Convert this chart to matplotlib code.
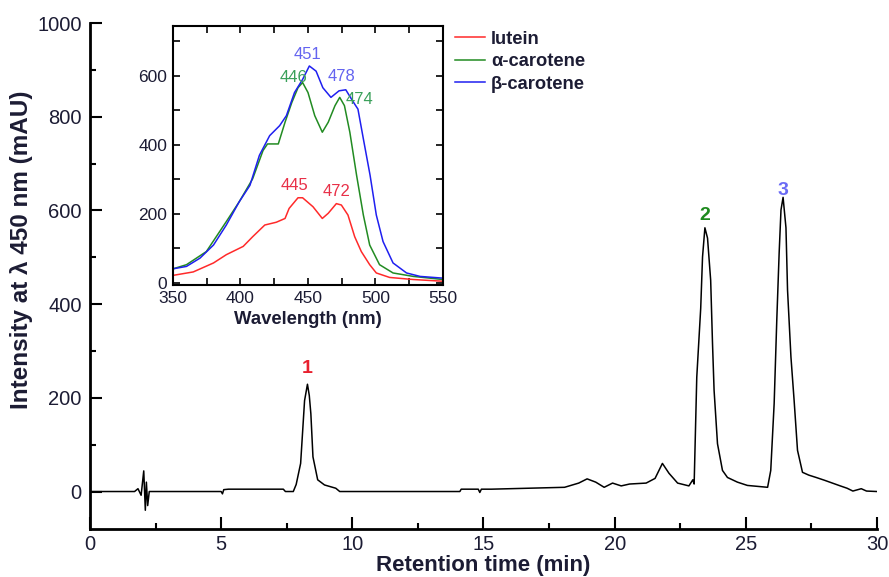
import matplotlib
matplotlib.use("Agg")
import matplotlib.pyplot as plt
from matplotlib.ticker import MultipleLocator

plt.rcParams["font.family"] = ["Liberation Sans", "DejaVu Sans"]

# chromatogram at 450 nm (retention time in min, intensity in mAU)
rt = [0.0, 1.7, 1.83, 1.95, 2.05, 2.11, 2.15, 2.2, 2.26, 2.37, 5.0, 5.05, 5.1, 5.28,
      7.37, 7.45, 7.75, 7.86, 8.03, 8.18, 8.29, 8.36, 8.42, 8.5, 8.68, 8.94, 9.37, 9.52,
      14.1, 14.15, 14.8, 14.86, 14.92, 15.3, 18.09, 18.63, 18.95, 19.28, 19.6, 19.92,
      20.25, 20.57, 21.2, 21.54, 21.82, 22.07, 22.4, 22.83, 22.98, 23.03, 23.13, 23.28,
      23.35, 23.44, 23.54, 23.66, 23.73, 23.79, 23.92, 24.11, 24.3, 24.68, 25.06, 25.83,
      25.95, 26.08, 26.18, 26.27, 26.34, 26.42, 26.53, 26.59, 26.72, 26.84, 26.97, 27.16,
      27.4, 27.68, 28.0, 28.3, 28.6, 28.86, 29.08, 29.4, 29.6, 30.0]
intensity = [0, 0, 6, -8, 44, -40, 20, -30, 0, 0, 0, -5, 4, 5,
             5, 0, 0, 15, 60, 194, 229, 205, 166, 74, 25, 14, 7, 0,
             0, 5, 5, -2, 5, 5, 9, 18, 27, 20, 9, 18,
             12, 16, 18, 28, 60, 39, 18, 12, 25, 16, 244, 391,
             501, 563, 541, 451, 316, 216, 102, 45, 30, 20, 13, 9,
             45, 188, 366, 509, 601, 628, 563, 430, 287, 195, 88, 41,
             35, 30, 24, 18, 12, 7, 1, 6, 1, 0]

peak_labels = ["1", "2", "3"]
peak_rt = [8.28, 23.44, 26.42]
peak_label_y = [263, 590, 643]
peak_colors = ["#e8202e", "#1e8a1e", "#6b6bf5"]

# UV-Vis spectra for inset (wavelength nm, absorbance mAU)
wl_lutein = [350, 365, 380, 389.5, 402, 409, 418, 426.5, 433, 436, 442.6, 446, 453.7,
             460.6, 465, 471, 474.7, 479.6, 484.6, 489.5, 495.7, 500.6, 510.5, 528, 550]
lutein = [22, 32, 58, 82, 106, 134, 168, 176, 187, 216, 247, 247, 221,
          187, 202, 230, 226, 197, 134, 91, 53, 29, 16, 10, 5]
wl_alpha = [350, 360, 374.7, 389.5, 399, 409, 416.7, 420, 428, 433, 438, 442.6, 446,
            450, 455, 460.6, 465, 470, 473.5, 477, 481, 486, 491, 495.7, 503, 513, 528, 550]
alpha = [41, 53, 91, 178, 235, 302, 384, 403, 403, 466, 523, 566, 581,
         552, 485, 437, 466, 514, 538, 514, 437, 312, 197, 110, 53, 29, 19, 10]
wl_beta = [350, 360, 370, 380, 389.5, 399, 407, 414, 421.6, 429, 434, 440, 446, 451,
           456, 461, 467, 473, 478, 483, 487, 491, 496, 500.6, 505.6, 513, 523, 533, 550]
beta = [41, 48, 72, 110, 168, 235, 283, 370, 427, 456, 485, 552, 590, 629,
        614, 566, 538, 557, 560, 528, 504, 418, 312, 197, 120, 58, 29, 19, 14]

spec_names = ["lutein", "\u03b1-carotene", "\u03b2-carotene"]
spec_colors = ["#ff2a2a", "#228b22", "#1f1ff0"]

max_labels = ["451", "478", "446", "474", "445", "472"]
max_x = [450, 475, 439, 488, 440, 471]
max_y = [662, 598, 595, 531, 283, 264]
max_colors = ["#6464f0", "#6464f0", "#3aa05a", "#3aa05a", "#e83048", "#e83048"]

text_color = "#1c1c34"

fig = plt.figure(figsize=(8.89, 5.77), dpi=100)
ax = fig.add_axes([0.1012, 0.0832, 0.8853, 0.8768])
ax.plot(rt, intensity, color="black", lw=1.1)
ax.set_xlim(0, 30)
ax.set_ylim(-80, 1000)
ax.xaxis.set_major_locator(MultipleLocator(5))
ax.xaxis.set_minor_locator(MultipleLocator(2.5))
ax.yaxis.set_major_locator(MultipleLocator(200))
ax.yaxis.set_minor_locator(MultipleLocator(100))
ax.tick_params(which="major", direction="in", length=8.5, width=1.5,
               labelsize=14.5, labelcolor=text_color, pad=6)
ax.tick_params(axis="x", which="major", pad=4.5)
ax.tick_params(which="minor", direction="in", length=4.5, width=1.5)
for side in ["top", "right"]:
    ax.spines[side].set_visible(False)
for side in ["left", "bottom"]:
    ax.spines[side].set_linewidth(2)
ax.set_xlabel("Retention time (min)", fontsize=16, fontweight="bold",
              color=text_color, labelpad=0.5)
ax.set_ylabel("Intensity at \u03bb 450 nm (mAU)", fontsize=17.5, fontweight="bold",
              color=text_color)
ax.yaxis.set_label_coords(-0.073, 0.551)

for lab, x, y, c in zip(peak_labels, peak_rt, peak_label_y, peak_colors):
    ax.text(x, y, lab, color=c, fontsize=14, fontweight="bold", ha="center", va="center")

# inset with spectra
ins = fig.add_axes([0.1946, 0.506, 0.3037, 0.449])
ins.plot(wl_lutein, lutein, color=spec_colors[0], lw=1.1, label=spec_names[0])
ins.plot(wl_alpha, alpha, color=spec_colors[1], lw=1.1, label=spec_names[1])
ins.plot(wl_beta, beta, color=spec_colors[2], lw=1.1, label=spec_names[2])
ins.set_xlim(350, 550)
ins.set_ylim(-6, 745)
ins.xaxis.set_major_locator(MultipleLocator(50))
ins.xaxis.set_minor_locator(MultipleLocator(25))
ins.yaxis.set_major_locator(MultipleLocator(200))
ins.yaxis.set_minor_locator(MultipleLocator(100))
ins.tick_params(which="both", direction="in", length=5, width=1.2, top=True, right=True,
                labelsize=12.5, labelcolor=text_color, pad=4)
for sp in ins.spines.values():
    sp.set_linewidth(1.5)
ins.set_xlabel("Wavelength (nm)", fontsize=13.3, fontweight="bold",
               color=text_color, labelpad=4)

for lab, x, y, c in zip(max_labels, max_x, max_y, max_colors):
    ins.text(x, y, lab, color=c, fontsize=12, ha="center", va="center")

leg = ins.legend(loc="upper left", bbox_to_anchor=(0.985, 1.045), frameon=False,
                 handlelength=1.6, handletextpad=0.35, labelspacing=0.3,
                 prop={"size": 13.2, "weight": "bold"})
for t in leg.get_texts():
    t.set_color(text_color)

fig.savefig("out.png", dpi=100)
